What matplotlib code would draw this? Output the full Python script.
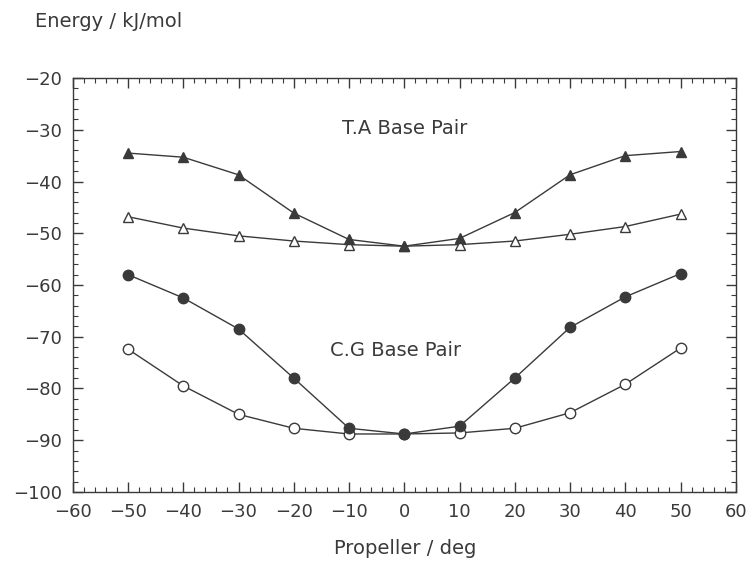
import matplotlib
matplotlib.use("Agg")
from matplotlib import pyplot as plt
from matplotlib.ticker import MultipleLocator

# propeller angles (deg)
propeller = [-50, -40, -30, -20, -10, 0, 10, 20, 30, 40, 50]

# T.A base pair
ta_filled = [-34.5, -35.3, -38.7, -46.1, -51.2, -52.5, -51.0, -46.0, -38.7, -35.0, -34.2]
ta_open = [-46.8, -49.0, -50.5, -51.5, -52.2, -52.5, -52.2, -51.5, -50.2, -48.7, -46.3]

# C.G base pair
cg_filled = [-58.0, -62.5, -68.5, -78.0, -87.7, -88.8, -87.3, -78.0, -68.2, -62.3, -57.8]
cg_open = [-72.4, -79.5, -85.0, -87.7, -88.8, -88.8, -88.6, -87.7, -84.7, -79.2, -72.2]

ink = "#3a3a3a"
plt.rcParams['font.family'] = ['DejaVu Sans']

fig = plt.figure(figsize=(7.5, 5.74), dpi=100)
ax = fig.add_axes([0.097, 0.143, 0.884, 0.721])

line_kw = dict(color=ink, linewidth=1.0, markersize=7.5, markeredgewidth=1.0)
ax.plot(propeller, ta_open, marker='^', markerfacecolor='white', markeredgecolor=ink, **line_kw)
ax.plot(propeller, ta_filled, marker='^', markerfacecolor=ink, markeredgecolor=ink, **line_kw)
ax.plot(propeller, cg_open, marker='o', markerfacecolor='white', markeredgecolor=ink, **line_kw)
ax.plot(propeller, cg_filled, marker='o', markerfacecolor=ink, markeredgecolor=ink, **line_kw)

ax.text(0, -29.7, "T.A Base Pair", ha='center', va='center', fontsize=14, color=ink)
ax.text(-1.5, -72.6, "C.G Base Pair", ha='center', va='center', fontsize=14, color=ink)

ax.set_xlim(-60, 60)
ax.set_ylim(-100, -20)
ax.xaxis.set_major_locator(MultipleLocator(10))
ax.xaxis.set_minor_locator(MultipleLocator(2))
ax.yaxis.set_major_locator(MultipleLocator(10))
ax.yaxis.set_minor_locator(MultipleLocator(2))
ax.tick_params(which='both', direction='in', top=True, right=True, colors=ink)
ax.tick_params(which='major', length=7, width=1, labelsize=13, pad=8)
ax.tick_params(which='minor', length=3.5, width=0.8)
for s in ax.spines.values():
    s.set_color(ink)
    s.set_linewidth(1.0)

fig.text(0.047, 0.962, "Energy / kJ/mol", fontsize=14, color=ink, va='center', ha='left')
fig.text(0.54, 0.045, "Propeller / deg", fontsize=14, color=ink, va='center', ha='center')

fig.savefig("out.png", dpi=100)
